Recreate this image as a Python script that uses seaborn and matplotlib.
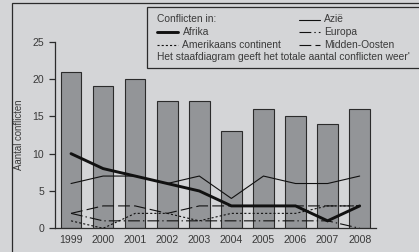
#!/usr/bin/env python3
"""Conflicten per jaar: staafdiagram (totaal) met lijnen per regio."""

import matplotlib

matplotlib.use("Agg")
import matplotlib.pyplot as plt
import numpy as np
import seaborn as sns
from matplotlib.lines import Line2D
from matplotlib.patches import Rectangle

years = ["1999", "2000", "2001", "2002", "2003", "2004", "2005", "2006", "2007", "2008"]
totaal = [21, 19, 20, 17, 17, 13, 16, 15, 14, 16]
afrika = [10, 8, 7, 6, 5, 3, 3, 3, 1, 3]
azie = [6, 7, 7, 6, 7, 4, 7, 6, 6, 7]
amerika = [1, 0, 2, 2, 1, 2, 2, 2, 3, 3]
europa = [2, 1, 1, 1, 1, 1, 1, 1, 1, 0]
midden_oosten = [2, 3, 3, 2, 3, 3, 3, 3, 3, 3]

BG = "#d4d5d7"
BAR = "#939598"
INK = "#2b2b2b"
TXT = "#3a3a3a"
W, H = 419, 252

sns.set_theme(style="white")
plt.rcParams["font.family"] = ["Liberation Sans", "DejaVu Sans"]
plt.rcParams["lines.scale_dashes"] = False

# line styles per region: (label, data, linewidth, dashes)
styles = [
    ("Afrika", afrika, 2.1, None),
    ("Amerikaans continent", amerika, 0.8, (1.5, 1.5)),
    ("Azië", azie, 0.8, None),
    ("Europa", europa, 0.8, (8.5, 2.2, 1.0, 2.2)),
    ("Midden-Oosten", midden_oosten, 0.8, (8.5, 3.0)),
]

fig = plt.figure(figsize=(W / 100, H / 100), dpi=100, facecolor=BG)


def fx(px):
    return px / W


def fy(py):
    return 1 - py / H


ax = fig.add_axes([fx(55), fy(228.3), fx(375.7) - fx(55), fy(41.7) - fy(228.3)])
ax.set_facecolor(BG)

sns.barplot(x=years, y=totaal, color=BAR, saturation=1, width=0.64,
            edgecolor=INK, linewidth=0.8, ax=ax, zorder=2)

xs = np.arange(len(years))
for label, vals, lw, dashes in styles:
    line, = ax.plot(xs, vals, color="#111111", lw=lw, zorder=3,
                    solid_joinstyle="miter")
    if dashes:
        line.set_dashes(dashes)

ax.set_xlim(-0.5, 9.5)
ax.set_ylim(0, 25)
ax.set_yticks([0, 5, 10, 15, 20, 25])
sns.despine(ax=ax)
for side in ("left", "bottom"):
    ax.spines[side].set_color(INK)
    ax.spines[side].set_linewidth(0.9)
ax.tick_params(axis="y", length=4.3, width=0.9, color=INK, pad=3.5,
               labelsize=7.6, labelcolor=TXT, left=True)
ax.tick_params(axis="x", length=0, pad=5, labelsize=7.6, labelcolor=TXT)
ax.set_xlabel("")
ax.set_ylabel("Aantal conflicten", fontsize=6.9, color=TXT)
ax.yaxis.set_label_coords(-0.097, 0.5)

# outer frame, running off the right and bottom edge
fig.add_artist(Rectangle((fx(12), fy(300)), fx(500), fy(3) - fy(300),
                         transform=fig.transFigure, fill=False,
                         edgecolor=INK, lw=0.9))

# legend box
fig.add_artist(Rectangle((fx(147), fy(68)), fx(400), fy(7.3) - fy(68),
                         transform=fig.transFigure, facecolor=BG,
                         edgecolor=INK, lw=0.9, zorder=5))

fs = 7.4
fig.text(fx(157), fy(19.5), "Conflicten in:", fontsize=fs, color=TXT,
         va="center", zorder=6)
fig.text(fx(157), fy(57.5), "Het staafdiagram geeft het totale aantal conflicten weer'",
         fontsize=fs, color=TXT, va="center", zorder=6)

slots = {
    "Afrika": (157, 32.3, 183),
    "Amerikaans continent": (157, 45, 182),
    "Azië": (299, 19.5, 324),
    "Europa": (299, 32.3, 324),
    "Midden-Oosten": (299, 45, 324),
}
for label, vals, lw, dashes in styles:
    x0, y0, tx = slots[label]
    h = Line2D([fx(x0), fx(x0 + 21)], [fy(y0), fy(y0)], transform=fig.transFigure,
               color="#111111", lw=lw, zorder=6)
    if dashes:
        h.set_dashes(dashes)
    fig.add_artist(h)
    fig.text(fx(tx), fy(y0), label, fontsize=fs, color=TXT, va="center", zorder=6)

fig.savefig("out.png", dpi=100, facecolor=BG)
